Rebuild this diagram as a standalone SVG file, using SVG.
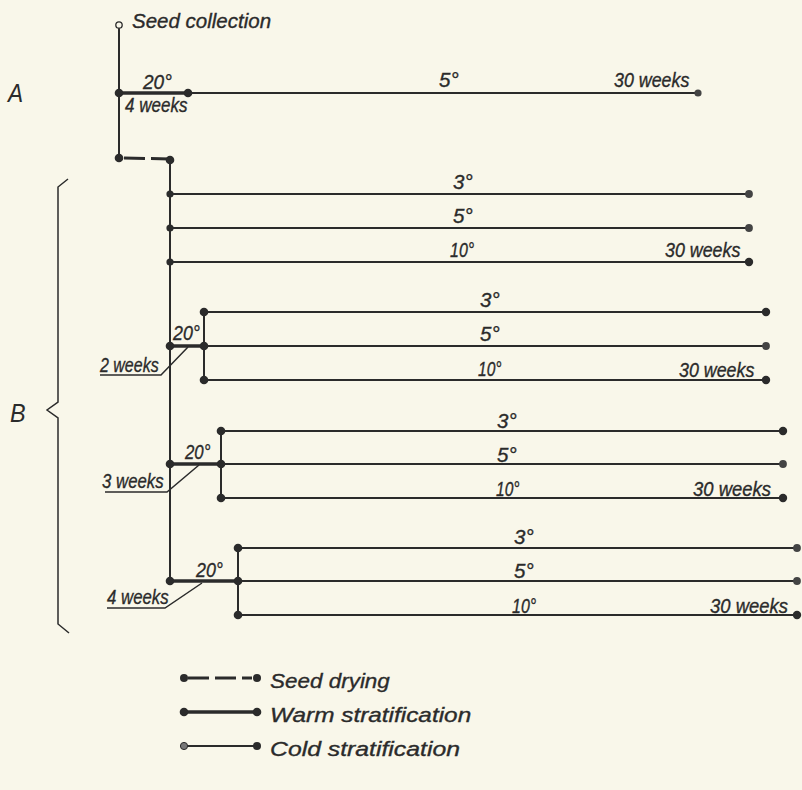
<svg xmlns="http://www.w3.org/2000/svg" width="802" height="790" viewBox="0 0 802 790">
<defs>
<style>
.t{font-family:"Liberation Sans",Arial,sans-serif;font-style:italic;font-size:20.5px;fill:#2b2b2b;stroke:#2b2b2b;stroke-width:0.35}
.g{font-family:"Liberation Sans",Arial,sans-serif;font-style:italic;font-size:21px;fill:#2b2b2b;stroke:#2b2b2b;stroke-width:0.35}
.L{font-family:"Liberation Sans",Arial,sans-serif;font-style:italic;font-size:26px;fill:#2b2b2b}
.cold{stroke:#2b2b2b;stroke-width:2;fill:none}
.warm{stroke:#2b2b2b;stroke-width:3.4;fill:none}
.dry{stroke:#2b2b2b;stroke-width:3;fill:none;stroke-dasharray:21 6}
.thin{stroke:#2b2b2b;stroke-width:1.5;fill:none}
.d{fill:#2b2b2b}
.e{fill:#444}
</style>
</defs>
<rect width="802" height="790" fill="#f9f7ea"/>

<g id="labels-AB">
<text class="L" transform="translate(8,102) scale(0.87,1)">A</text>
<text class="L" transform="translate(10,422) scale(0.9,1)">B</text>
<path class="thin" d="M68,179 L58,187 L58,402 L47,410 L58,418 L58,624 L69,633"/>
</g>

<g id="connectors">
<line class="cold" x1="119" y1="28" x2="119" y2="158"/>
<line class="dry" x1="124" y1="158" x2="170" y2="159"/>
<line class="cold" x1="170" y1="159" x2="170" y2="581"/>
<line class="warm" x1="119" y1="93" x2="188" y2="93"/>
<line class="cold" x1="188" y1="93" x2="698" y2="93"/>
<line class="cold" x1="170" y1="194" x2="749" y2="194"/>
<line class="cold" x1="170" y1="228" x2="749" y2="228"/>
<line class="cold" x1="170" y1="262" x2="749" y2="262"/>
<line class="warm" x1="170" y1="346" x2="204" y2="346"/>
<line class="cold" x1="204" y1="312" x2="204" y2="380"/>
<line class="cold" x1="204" y1="312" x2="766" y2="312"/>
<line class="cold" x1="204" y1="346" x2="766" y2="346"/>
<line class="cold" x1="204" y1="380" x2="766" y2="380"/>
<path class="thin" d="M100,375 L161,375 L188,347"/>
<line class="warm" x1="170" y1="464" x2="221" y2="464"/>
<line class="cold" x1="221" y1="431" x2="221" y2="498"/>
<line class="cold" x1="221" y1="431" x2="783" y2="431"/>
<line class="cold" x1="221" y1="464" x2="783" y2="464"/>
<line class="cold" x1="221" y1="498" x2="783" y2="498"/>
<path class="thin" d="M105,492 L167,492 L199,465"/>
<line class="warm" x1="170" y1="581" x2="238" y2="581"/>
<line class="cold" x1="238" y1="548" x2="238" y2="615"/>
<line class="cold" x1="238" y1="548" x2="797" y2="548"/>
<line class="cold" x1="238" y1="581" x2="797" y2="581"/>
<line class="cold" x1="238" y1="615" x2="797" y2="615"/>
<path class="thin" d="M107,608 L165,608 L202,583"/>
</g>

<g id="node-collection">
<circle cx="119" cy="25" r="3.2" fill="#f9f7ea" stroke="#2b2b2b" stroke-width="1.3"/>
<text class="t" x="132" y="28">Seed collection</text>
</g>

<g id="node-A">
<circle class="d" cx="119" cy="93" r="4.3"/>
<circle class="d" cx="188" cy="93" r="4.3"/>
<circle class="e" cx="698" cy="93" r="3.6"/>
<text class="t" transform="translate(143,89) scale(0.93,1)">20°</text>
<text class="t" transform="translate(125,112) scale(0.83,1)">4 weeks</text>
<text class="t" x="439" y="87">5°</text>
<text class="t" transform="translate(614,87) scale(0.87,1)">30 weeks</text>
</g>

<g id="node-drying">
<circle class="d" cx="119" cy="158" r="4.3"/>
<circle class="d" cx="170" cy="160" r="4.3"/>
</g>

<g id="node-B1">
<circle class="d" cx="170" cy="194" r="3.6"/>
<circle class="d" cx="170" cy="228" r="3.6"/>
<circle class="d" cx="170" cy="262" r="3.6"/>
<circle class="e" cx="749" cy="194" r="3.9"/>
<circle class="e" cx="749" cy="228" r="3.9"/>
<circle class="d" cx="749" cy="262" r="4.2"/>
<text class="t" x="453" y="189">3°</text>
<text class="t" x="453" y="223">5°</text>
<text class="t" transform="translate(450,257) scale(0.78,1)">10°</text>
<text class="t" transform="translate(665,257) scale(0.87,1)">30 weeks</text>
</g>

<g id="node-B2">
<circle class="d" cx="170" cy="346" r="4.3"/>
<circle class="d" cx="204" cy="312" r="4.3"/>
<circle class="d" cx="204" cy="346" r="4.3"/>
<circle class="d" cx="204" cy="380" r="4.3"/>
<circle class="d" cx="766" cy="312" r="4.2"/>
<circle class="e" cx="766" cy="346" r="3.9"/>
<circle class="d" cx="766" cy="380" r="4.2"/>
<text class="t" transform="translate(173,340) scale(0.87,1)">20°</text>
<text class="t" transform="translate(100,372) scale(0.78,1)">2 weeks</text>
<text class="t" x="480" y="307">3°</text>
<text class="t" x="480" y="341">5°</text>
<text class="t" transform="translate(478,376) scale(0.76,1)">10°</text>
<text class="t" transform="translate(679,377) scale(0.87,1)">30 weeks</text>
</g>

<g id="node-B3">
<circle class="d" cx="170" cy="464" r="4.3"/>
<circle class="d" cx="221" cy="431" r="4.3"/>
<circle class="d" cx="221" cy="464" r="4.3"/>
<circle class="d" cx="221" cy="498" r="4.3"/>
<circle class="d" cx="783" cy="431" r="4.2"/>
<circle class="e" cx="783" cy="464" r="3.9"/>
<circle class="d" cx="783" cy="498" r="4.2"/>
<text class="t" transform="translate(185,459) scale(0.82,1)">20°</text>
<text class="t" transform="translate(102,488) scale(0.82,1)">3 weeks</text>
<text class="t" x="497" y="428">3°</text>
<text class="t" x="497" y="462">5°</text>
<text class="t" transform="translate(496,496) scale(0.76,1)">10°</text>
<text class="t" transform="translate(693,496) scale(0.9,1)">30 weeks</text>
</g>

<g id="node-B4">
<circle class="d" cx="170" cy="581" r="4.3"/>
<circle class="d" cx="238" cy="548" r="4.3"/>
<circle class="d" cx="238" cy="581" r="4.3"/>
<circle class="d" cx="238" cy="615" r="4.3"/>
<circle class="e" cx="797" cy="548" r="3.9"/>
<circle class="e" cx="797" cy="581" r="3.9"/>
<circle class="d" cx="797" cy="615" r="4.2"/>
<text class="t" transform="translate(196,577) scale(0.87,1)">20°</text>
<text class="t" transform="translate(107,604) scale(0.82,1)">4 weeks</text>
<text class="t" x="514" y="544">3°</text>
<text class="t" x="514" y="578">5°</text>
<text class="t" transform="translate(512,613) scale(0.78,1)">10°</text>
<text class="t" transform="translate(710,613) scale(0.9,1)">30 weeks</text>
</g>

<g id="legend">
<line class="dry" x1="188" y1="678" x2="252" y2="678" stroke-dasharray="22 8"/>
<circle class="d" cx="184" cy="678" r="4"/>
<circle class="d" cx="257" cy="678" r="4"/>
<text class="g" transform="translate(270,688) scale(1.07,1)">Seed drying</text>
<line class="warm" x1="184" y1="712" x2="257" y2="712"/>
<circle class="d" cx="184" cy="712" r="4.3"/>
<circle class="d" cx="257" cy="712" r="4.3"/>
<text class="g" transform="translate(270,722) scale(1.16,1)">Warm stratification</text>
<line class="cold" x1="184" y1="746" x2="257" y2="746"/>
<circle cx="184" cy="746" r="3.6" fill="#777" stroke="#2b2b2b" stroke-width="1"/>
<circle class="d" cx="257" cy="746" r="4"/>
<text class="g" transform="translate(270,756) scale(1.18,1)">Cold stratification</text>
</g>
</svg>
